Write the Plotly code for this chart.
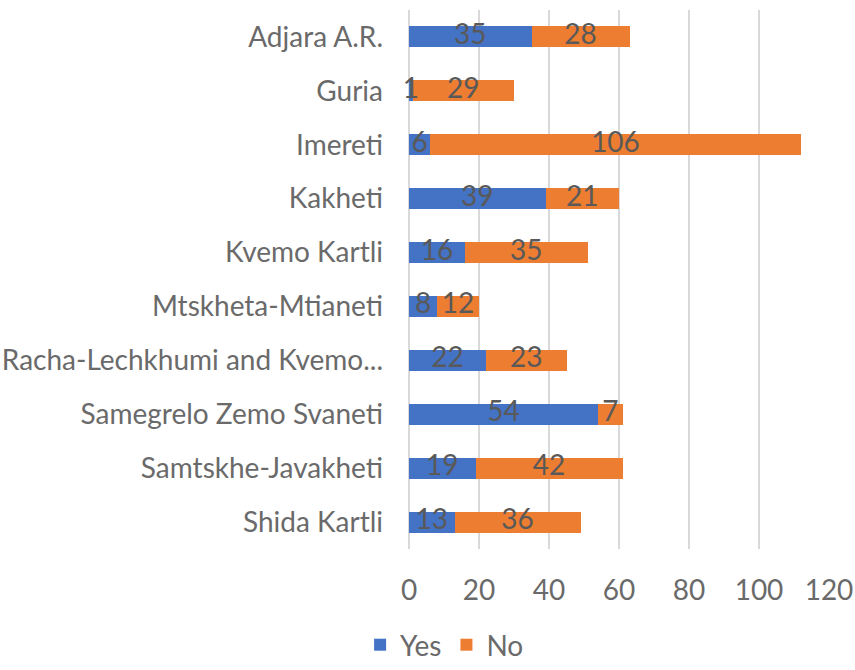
import plotly.graph_objects as go

regions = [
    "Adjara A.R.",
    "Guria",
    "Imereti",
    "Kakheti",
    "Kvemo Kartli",
    "Mtskheta-Mtianeti",
    "Racha-Lechkhumi and Kvemo...",
    "Samegrelo Zemo Svaneti",
    "Samtskhe-Javakheti",
    "Shida Kartli",
]
yes_counts = [35, 1, 6, 39, 16, 8, 22, 54, 19, 13]
no_counts = [28, 29, 106, 21, 35, 12, 23, 7, 42, 36]
x_ticks = [0, 20, 40, 60, 80, 100, 120]

BLUE = "#4472C4"
ORANGE = "#ED7D31"
FONT = "Lato"
LABEL_SIZE = 28
TEXT_GRAY = "#6A6A6A"
VALUE_GRAY = "#595959"

fig = go.Figure()
fig.add_trace(go.Bar(y=regions, x=yes_counts, name="Yes", orientation="h",
                     marker=dict(color=BLUE, line=dict(width=0))))
fig.add_trace(go.Bar(y=regions, x=no_counts, name="No", orientation="h",
                     marker=dict(color=ORANGE, line=dict(width=0))))

# value labels centred on each segment, allowed to overflow thin segments
yes_mid = [v / 2 for v in yes_counts]
no_mid = [y + n / 2 for y, n in zip(yes_counts, no_counts)]
for mids, vals in ((yes_mid, yes_counts), (no_mid, no_counts)):
    fig.add_trace(go.Scatter(
        x=mids, y=regions, mode="text", text=[str(v) for v in vals],
        textposition="middle center",
        textfont=dict(family=FONT, size=LABEL_SIZE, color=VALUE_GRAY),
        showlegend=False, hoverinfo="skip", cliponaxis=False,
    ))

fig.update_layout(
    barmode="stack",
    bargap=0.61,
    width=855, height=670,
    margin=dict(l=409, r=26, t=10, b=121, autoexpand=False),
    paper_bgcolor="white", plot_bgcolor="white",
    font=dict(family=FONT, size=LABEL_SIZE, color=TEXT_GRAY),
    legend=dict(orientation="h", traceorder="normal",
                xref="container", yref="container",
                x=0.52, y=0.0, xanchor="center", yanchor="bottom",
                font=dict(family=FONT, size=LABEL_SIZE, color=TEXT_GRAY),
                itemwidth=30, tracegroupgap=0),
    xaxis=dict(range=[0, 120], tickvals=x_ticks, showgrid=True,
               gridcolor="#D9D9D9", gridwidth=2, zeroline=True,
               zerolinecolor="#D9D9D9", zerolinewidth=2, showline=False,
               ticks="", ticklabelstandoff=22, fixedrange=True,
               automargin=False),
    yaxis=dict(categoryorder="array", categoryarray=regions,
               autorange="reversed", showgrid=False, showline=False,
               ticks="", ticklabelstandoff=25, fixedrange=True,
               automargin=False),
)

fig.write_html("out.html")
